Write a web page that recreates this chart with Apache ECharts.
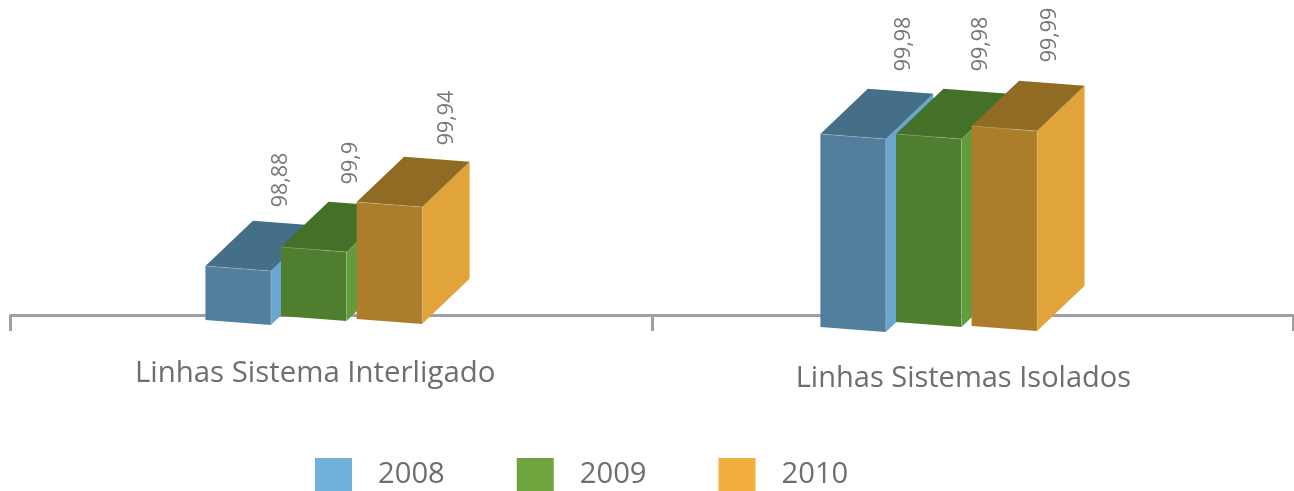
<!DOCTYPE html>
<html><head><meta charset="utf-8">
<style>html,body{margin:0;padding:0;background:#fff}#c{width:1294px;height:491px}</style>
<script src="https://cdn.jsdelivr.net/npm/echarts@6/dist/echarts.min.js"></script>
</head><body><div id="c"></div>
<script>
const categories = ['Linhas Sistema Interligado', 'Linhas Sistemas Isolados'];
const years = ['2008', '2009', '2010'];
// Printed labels
const labels2008 = ['98,88', '99,98'];
const labels2009 = ['99,9', '99,98'];
const labels2010 = ['99,94', '99,99'];
// Drawn bar tops and bases (the picture's heights are not proportional to the labels)
const tops2008 = [49, 181];
const tops2009 = [68, 181];
const tops2010 = [113, 189];
const bases2008 = [-5, -12];
const bases2009 = [-1, -7];
const bases2010 = [-4, -11];

const BAR_W = 65.5, STEP = 75.6, DX = 47.5, DY = 45.3, TILT = 5;
const groupShift = [-125.7, -152];
const labelShift = [[[75, -86], [83, -90]], [[70, -84], [85, -90]], [[90, -84], [78, -91]]];
const palette = [
  {legend: '#72b1d9', front: '#537f9f', side: '#6aa6cf', top: '#456e88'},
  {legend: '#6ea53e', front: '#4e7e2e', side: '#639c3c', top: '#447127'},
  {legend: '#f0af3f', front: '#ac7d2b', side: '#e0a43b', top: '#8f6b23'}
];
const TEXT = '#77787b';

function makeSeries(i, tops, bases, labs) {
  return {
    name: years[i], type: 'custom', coordinateSystem: 'cartesian2d',
    itemStyle: {color: palette[i].legend},
    encode: {x: 0, y: 1},
    data: categories.map((c, k) => [k, tops[k], bases[k], labs[k]]),
    renderItem(params, api) {
      const k = api.value(0);
      const center = api.coord([k, 0])[0];
      const x0 = center + groupShift[k] + i * STEP, x1 = x0 + BAR_W;
      const yt = api.coord([k, api.value(1)])[1], yb = api.coord([k, api.value(2)])[1];
      const p = palette[i];
      const poly = (pts, fill) => ({type: 'polygon', shape: {points: pts}, style: {fill}});
      const edge = (a, b) => ({type: 'line', shape: {x1: a[0], y1: a[1], x2: b[0], y2: b[1]}, style: {stroke: 'rgba(255,255,255,0.2)', lineWidth: 1}});
      const tl = [x0, yt], tr = [x1, yt + TILT], br = [x1, yb + TILT], bl = [x0, yb];
      const tbl = [x0 + DX, yt - DY], tbr = [x1 + DX, yt + TILT - DY], bbr = [x1 + DX, yb + TILT - DY];
      const shift = labelShift[i][k];
      return {type: 'group', children: [
        poly([tr, tbr, bbr, br], p.side),
        poly([tl, tbl, tbr, tr], p.top),
        poly([tl, tr, br, bl], p.front),
        edge(tl, tr), edge(tr, br),
        {type: 'text', x: x0 + shift[0], y: yt + shift[1], rotation: Math.PI / 2,
         style: {text: api.value(3), fill: TEXT, font: '21.5px "Open Sans"', align: 'center', verticalAlign: 'middle'}}
      ]};
    }
  };
}

const chart = echarts.init(document.getElementById('c'), null, {renderer: 'canvas'});
chart.setOption({
  animation: false,
  backgroundColor: '#fff',
  grid: {left: 10.5, right: 1, top: 15, height: 320},
  legend: {
    left: 315, top: 458, padding: 0, itemWidth: 37, itemHeight: 33, itemGap: 72, icon: 'rect',
    selectedMode: false, data: years,
    textStyle: {color: '#6d6e71', fontFamily: 'Open Sans', fontSize: 29.2, padding: [0, 0, 0, 21]}
  },
  xAxis: {
    type: 'category', data: categories, boundaryGap: true,
    axisLine: {onZero: true, lineStyle: {color: '#a0a0a4', width: 3}},
    axisTick: {show: true, length: 16, lineStyle: {color: '#a0a0a4', width: 3}, alignWithLabel: false},
    axisLabel: {
      margin: 24, interval: 0,
      formatter: (v, i) => i === 0 ? '{a|' + v + '}' : '{b|' + v + '}',
      rich: {
        a: {color: '#6d6e71', fontFamily: 'Open Sans', fontSize: 29.4, padding: [0, 32, 0, 0]},
        b: {color: '#6d6e71', fontFamily: 'Open Sans', fontSize: 29, padding: [5, 18, 0, 0]}
      }
    }
  },
  yAxis: {type: 'value', min: -20, max: 300, show: false, splitLine: {show: false}},
  series: [
    makeSeries(0, tops2008, bases2008, labels2008),
    makeSeries(1, tops2009, bases2009, labels2009),
    makeSeries(2, tops2010, bases2010, labels2010)
  ]
});
</script></body></html>
